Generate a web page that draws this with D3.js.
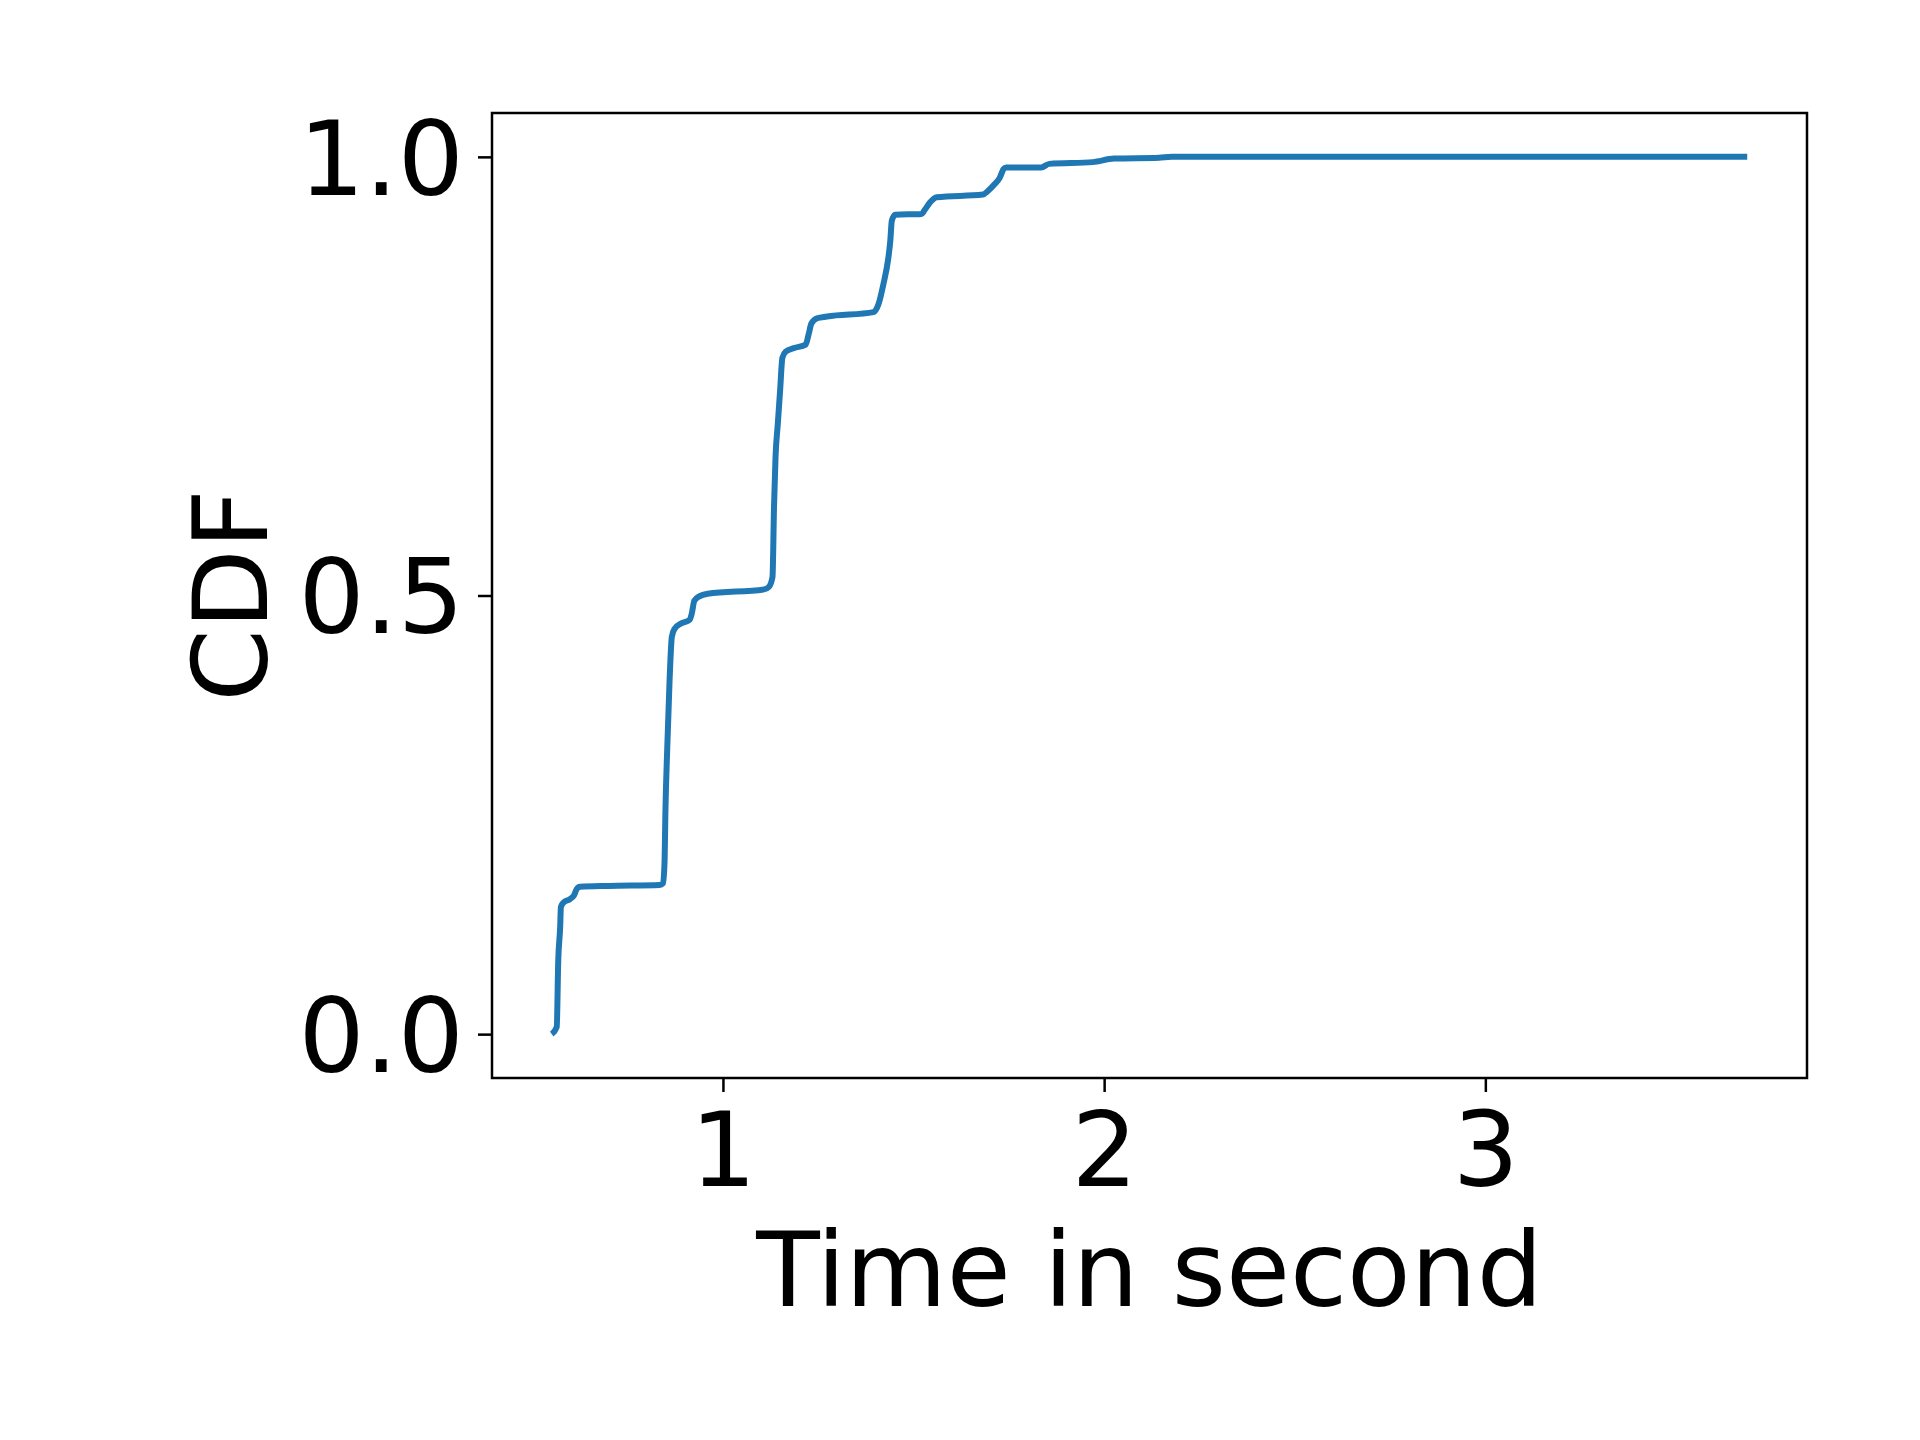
<!DOCTYPE html>
<html>
<head>
<meta charset="utf-8">
<script src="https://cdn.jsdelivr.net/npm/d3@7"></script>
<style>
  body { margin: 0; background: #fff; }
  svg { display: block; font-family: "DejaVu Sans", sans-serif; }
</style>
</head>
<body>
<div id="chart"></div>
<script>
// CDF curve
var timeSec = [0.551, 0.564, 0.568, 0.573, 0.575, 0.582, 0.599, 0.609, 0.616, 0.625,
  0.699, 0.834, 0.843, 0.847, 0.849, 0.854, 0.860, 0.866, 0.873, 0.890,
  0.912, 0.918, 0.925, 0.938, 0.960, 1.108, 1.121, 1.130, 1.134, 1.138,
  1.144, 1.150, 1.156, 1.165, 1.186, 1.217, 1.225, 1.232, 1.247, 1.273,
  1.395, 1.408, 1.421, 1.434, 1.439, 1.443, 1.452, 1.521, 1.530, 1.543,
  1.561, 1.682, 1.695, 1.713, 1.726, 1.736, 1.743, 1.835, 1.856, 1.970,
  2.026, 2.144, 2.178, 3.687];
var cdf = [0.000, 0.008, 0.084, 0.122, 0.145, 0.150, 0.154, 0.158, 0.165, 0.168,
  0.169, 0.170, 0.172, 0.198, 0.251, 0.327, 0.403, 0.453, 0.462, 0.468,
  0.472, 0.479, 0.494, 0.499, 0.502, 0.507, 0.510, 0.521, 0.601, 0.658,
  0.696, 0.734, 0.771, 0.778, 0.782, 0.786, 0.798, 0.810, 0.816, 0.818,
  0.823, 0.832, 0.855, 0.885, 0.904, 0.927, 0.934, 0.935, 0.940, 0.948,
  0.954, 0.957, 0.961, 0.969, 0.976, 0.986, 0.988, 0.988, 0.992, 0.994,
  0.998, 0.999, 1.000, 1.000];

var xTicks = [1, 2, 3];
var yTicks = [0.0, 0.5, 1.0];

var width = 1920, height = 1440;
var margin = {left: 492, right: 113, top: 113, bottom: 362};
var fontSize = 104;

var svg = d3.select("#chart")
    .append("svg")
    .attr("width", width)
    .attr("height", height);

// matplotlib-style 5% margins around the data
var xExt = d3.extent(timeSec), yExt = d3.extent(cdf);
var xPad = (xExt[1] - xExt[0]) * 0.05, yPad = (yExt[1] - yExt[0]) * 0.05;

var x = d3.scaleLinear()
    .domain([xExt[0] - xPad, xExt[1] + xPad])
    .range([margin.left, width - margin.right]);

var y = d3.scaleLinear()
    .domain([yExt[0] - yPad, yExt[1] + yPad])
    .range([height - margin.bottom, margin.top]);

var points = timeSec.map(function(t, i) { return [t, cdf[i]]; });

var line = d3.line()
    .x(function(d) { return x(d[0]); })
    .y(function(d) { return y(d[1]); })
    .curve(d3.curveMonotoneX);

svg.append("path")
    .datum(points)
    .attr("fill", "none")
    .attr("stroke", "#1f77b4")
    .attr("stroke-width", 6)
    .attr("stroke-linejoin", "round")
    .attr("d", line);

// axes
var xAxis = svg.append("g")
    .attr("transform", "translate(0," + (height - margin.bottom) + ")")
    .call(d3.axisBottom(x).tickValues(xTicks).tickFormat(d3.format("d"))
      .tickSize(14).tickPadding(18));

var yAxis = svg.append("g")
    .attr("transform", "translate(" + margin.left + ",0)")
    .call(d3.axisLeft(y).tickValues(yTicks).tickFormat(d3.format(".1f"))
      .tickSize(14).tickPadding(14));

[xAxis, yAxis].forEach(function(g) {
  g.select(".domain").remove();
  g.selectAll(".tick line").attr("stroke", "#000").attr("stroke-width", 2.5);
  g.selectAll(".tick text")
    .attr("fill", "#000")
    .style("font-family", "'DejaVu Sans', sans-serif")
    .style("font-size", fontSize + "px");
});

yAxis.selectAll(".tick text").attr("dy", "0.36em");
xAxis.selectAll(".tick text").attr("dy", "0.73em");

// frame
svg.append("rect")
    .attr("x", margin.left)
    .attr("y", margin.top)
    .attr("width", width - margin.left - margin.right)
    .attr("height", height - margin.bottom - margin.top)
    .attr("fill", "none")
    .attr("stroke", "#000")
    .attr("stroke-width", 2.5);

// axis labels
svg.append("text")
    .attr("x", (margin.left + width - margin.right) / 2)
    .attr("y", 1306)
    .attr("text-anchor", "middle")
    .style("font-size", fontSize + "px")
    .text("Time in second");

svg.append("text")
    .attr("transform", "translate(267," + ((margin.top + height - margin.bottom) / 2) + ") rotate(-90)")
    .attr("text-anchor", "middle")
    .style("font-size", fontSize + "px")
    .text("CDF");
</script>
</body>
</html>
